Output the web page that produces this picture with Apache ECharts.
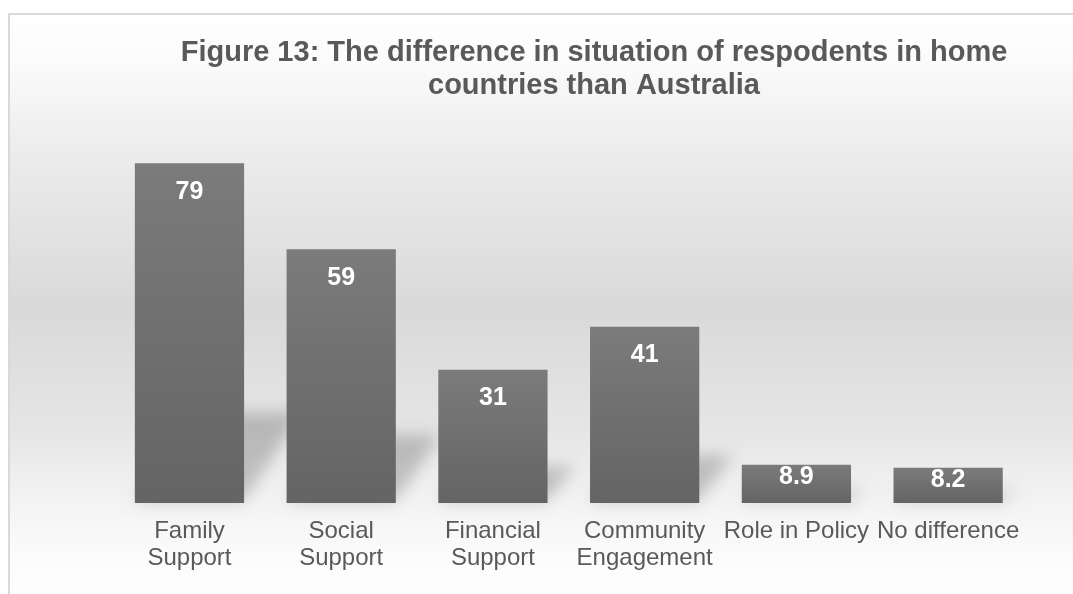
<!DOCTYPE html>
<html>
<head>
<meta charset="utf-8">
<script src="https://cdn.jsdelivr.net/npm/echarts@6/dist/echarts.min.js"></script>
<style>
  html, body { margin: 0; padding: 0; background: #fff; }
  #chart { width: 1073px; height: 594px; }
</style>
</head>
<body>
<div id="chart"></div>
<script>
const categories = ['Family\nSupport', 'Social\nSupport', 'Financial\nSupport', 'Community\nEngagement', 'Role in Policy', 'No difference']
const values = [79, 59, 31, 41, 8.9, 8.2]
const titleText = 'Figure 13: The difference in situation of respodents in home\ncountries than Australia'

const font = '"Liberation Sans", Arial, sans-serif'
const chart = echarts.init(document.getElementById('chart'), null, { renderer: 'canvas' })

// soft slanted shadow behind each bar, drawn off screen and pulled back with shadowOffset so only the blur shows
function renderShadow(params, api) {
  const v = api.value(1)
  const base = api.coord([api.value(0), 0])
  const top = api.coord([api.value(0), v * 0.26])
  const bw = api.size([1, 0])[0] * 0.72
  const xl = base[0] - bw / 2
  const xr = base[0] + bw / 2
  const y0 = base[1] - 2
  const sh = base[1] - top[1]
  const dx = sh * 0.55 + 8
  const off = 3000
  return {
    type: 'polygon',
    shape: {
      points: [[xl + off, y0], [xr + off, y0], [xr + dx + off, y0 - sh], [xl + dx + off, y0 - sh]]
    },
    style: {
      fill: '#000',
      shadowColor: 'rgba(0,0,0,0.2)',
      shadowBlur: 16,
      shadowOffsetX: -off,
      shadowOffsetY: 0
    }
  }
}

const option = {
  animation: false,
  textStyle: { fontFamily: font },
  graphic: [{
    type: 'rect',
    z: -10,
    silent: true,
    shape: { x: 9, y: 14, width: 1300, height: 800 },
    style: {
      stroke: '#d9d9d9',
      lineWidth: 2,
      fill: new echarts.graphic.LinearGradient(0, 14, 0, 614, [
        { offset: 0, color: '#ffffff' },
        { offset: 0.08, color: '#fbfbfb' },
        { offset: 0.23, color: '#ececec' },
        { offset: 0.49, color: '#d9d9d9' },
        { offset: 0.69, color: '#e5e5e5' },
        { offset: 0.81, color: '#f3f3f3' },
        { offset: 0.91, color: '#fcfcfc' },
        { offset: 1, color: '#ffffff' }
      ], true)
    }
  }],
  title: {
    text: titleText,
    left: 589,
    top: 31,
    textAlign: 'center',
    textStyle: {
      fontFamily: font,
      fontSize: 29,
      fontWeight: 'bold',
      color: '#595959',
      lineHeight: 33
    }
  },
  grid: { left: 113.6, right: 49, top: 73, bottom: 91 },
  xAxis: {
    type: 'category',
    data: categories,
    axisLine: { show: false },
    axisTick: { show: false },
    axisLabel: {
      interval: 0,
      margin: 15,
      fontFamily: font,
      fontSize: 24,
      lineHeight: 27,
      color: '#595959'
    }
  },
  yAxis: {
    type: 'value',
    min: 0,
    max: 100,
    show: false,
    splitLine: { show: false }
  },
  series: [{
    type: 'custom',
    clip: false,
    z: 1,
    silent: true,
    renderItem: renderShadow,
    data: values.map((v, i) => [i, v])
  }, {
    type: 'bar',
    z: 3,
    barCategoryGap: '28%',
    itemStyle: {
      color: new echarts.graphic.LinearGradient(0, 0, 0, 1, [
        { offset: 0, color: '#7b7b7b' },
        { offset: 1, color: '#646464' }
      ])
    },
    label: {
      show: true,
      position: 'insideTop',
      fontFamily: font,
      fontSize: 25,
      fontWeight: 'bold',
      color: '#ffffff'
    },
    data: values.map(v => ({ value: v, label: { distance: v < 15 ? 0 : 16 } }))
  }]
}

chart.setOption(option)
</script>
</body>
</html>
